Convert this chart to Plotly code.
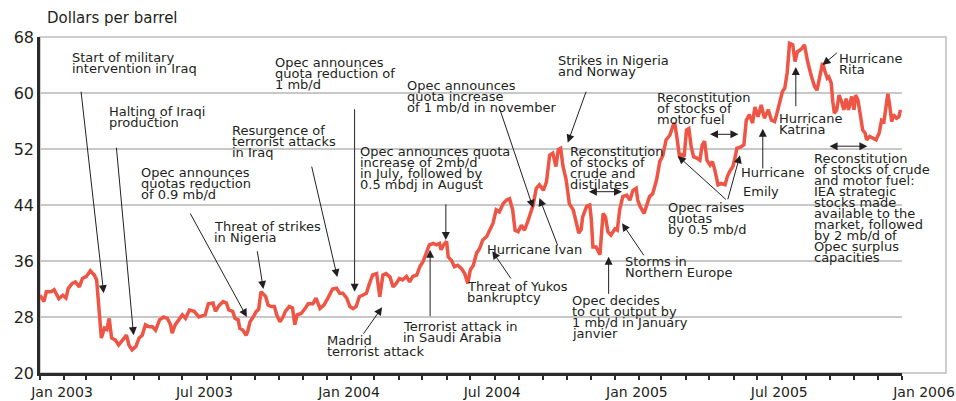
import plotly.graph_objects as go

# Brent price, dollars per barrel
dates = [
    "2003-01-01", "2003-01-06", "2003-01-09", "2003-01-15", "2003-01-19", "2003-01-25", "2003-01-30",
    "2003-02-03", "2003-02-06", "2003-02-11", "2003-02-15", "2003-02-20", "2003-02-24", "2003-03-01",
    "2003-03-06", "2003-03-11", "2003-03-14", "2003-03-17", "2003-03-20", "2003-03-24", "2003-03-27",
    "2003-03-30", "2003-04-02", "2003-04-07", "2003-04-11", "2003-04-16", "2003-04-21", "2003-04-24",
    "2003-04-28", "2003-05-03", "2003-05-07", "2003-05-11", "2003-05-15", "2003-05-20", "2003-05-24",
    "2003-05-28", "2003-06-02", "2003-06-07", "2003-06-12", "2003-06-16", "2003-06-18", "2003-06-22",
    "2003-06-27", "2003-07-01", "2003-07-05", "2003-07-10", "2003-07-16", "2003-07-22", "2003-07-30",
    "2003-08-03", "2003-08-09", "2003-08-12", "2003-08-17", "2003-08-22", "2003-08-26", "2003-08-29",
    "2003-09-03", "2003-09-06", "2003-09-10", "2003-09-12", "2003-09-16", "2003-09-20", "2003-09-22",
    "2003-09-25", "2003-09-29", "2003-10-03", "2003-10-06", "2003-10-09", "2003-10-11", "2003-10-15",
    "2003-10-18", "2003-10-22", "2003-10-26", "2003-10-29", "2003-11-02", "2003-11-06", "2003-11-09",
    "2003-11-14", "2003-11-18", "2003-11-21", "2003-11-24", "2003-11-29", "2003-12-04", "2003-12-08",
    "2003-12-14", "2003-12-18", "2003-12-23", "2003-12-28", "2004-01-02", "2004-01-08", "2004-01-13",
    "2004-01-17", "2004-01-21", "2004-01-26", "2004-01-30", "2004-02-03", "2004-02-07", "2004-02-11",
    "2004-02-15", "2004-02-20", "2004-02-24", "2004-02-28", "2004-03-04", "2004-03-08", "2004-03-12",
    "2004-03-16", "2004-03-21", "2004-03-25", "2004-03-29", "2004-04-02", "2004-04-06", "2004-04-11",
    "2004-04-15", "2004-04-19", "2004-04-24", "2004-04-28", "2004-05-02", "2004-05-06", "2004-05-10",
    "2004-05-15", "2004-05-19", "2004-05-23", "2004-05-25", "2004-05-28", "2004-06-01", "2004-06-03",
    "2004-06-07", "2004-06-11", "2004-06-15", "2004-06-20", "2004-06-24", "2004-06-28", "2004-07-01",
    "2004-07-05", "2004-07-09", "2004-07-13", "2004-07-17", "2004-07-22", "2004-07-26", "2004-07-30",
    "2004-08-03", "2004-08-07", "2004-08-12", "2004-08-16", "2004-08-20", "2004-08-24", "2004-08-27",
    "2004-08-31", "2004-09-04", "2004-09-08", "2004-09-12", "2004-09-15", "2004-09-19", "2004-09-23",
    "2004-09-27", "2004-10-02", "2004-10-06", "2004-10-10", "2004-10-14", "2004-10-18", "2004-10-21",
    "2004-10-24", "2004-10-27", "2004-10-31", "2004-11-04", "2004-11-09", "2004-11-13", "2004-11-16",
    "2004-11-19", "2004-11-21", "2004-11-26", "2004-11-30", "2004-12-02", "2004-12-04", "2004-12-08",
    "2004-12-13", "2004-12-15", "2004-12-17", "2004-12-20", "2004-12-23", "2004-12-27", "2005-01-01",
    "2005-01-04", "2005-01-07", "2005-01-11", "2005-01-16", "2005-01-20", "2005-01-24", "2005-01-28",
    "2005-01-30", "2005-02-02", "2005-02-07", "2005-02-10", "2005-02-14", "2005-02-18", "2005-02-23",
    "2005-02-27", "2005-03-03", "2005-03-07", "2005-03-12", "2005-03-16", "2005-03-18", "2005-03-21",
    "2005-03-24", "2005-03-27", "2005-03-30", "2005-04-02", "2005-04-05", "2005-04-08", "2005-04-11",
    "2005-04-15", "2005-04-19", "2005-04-22", "2005-04-25", "2005-04-28", "2005-05-02", "2005-05-05",
    "2005-05-08", "2005-05-12", "2005-05-16", "2005-05-21", "2005-05-24", "2005-05-27", "2005-05-31",
    "2005-06-03", "2005-06-05", "2005-06-10", "2005-06-14", "2005-06-17", "2005-06-21", "2005-06-25",
    "2005-06-28", "2005-07-02", "2005-07-06", "2005-07-10", "2005-07-15", "2005-07-19", "2005-07-23",
    "2005-07-26", "2005-07-30", "2005-08-02", "2005-08-05", "2005-08-08", "2005-08-11", "2005-08-15",
    "2005-08-18", "2005-08-21", "2005-08-24", "2005-08-27", "2005-08-30", "2005-09-03", "2005-09-08",
    "2005-09-12", "2005-09-15", "2005-09-18", "2005-09-22", "2005-09-25", "2005-09-28", "2005-09-30",
    "2005-10-03", "2005-10-05", "2005-10-07", "2005-10-10", "2005-10-13", "2005-10-16", "2005-10-19",
    "2005-10-22", "2005-10-25", "2005-10-29", "2005-11-01", "2005-11-03", "2005-11-06", "2005-11-09",
    "2005-11-12", "2005-11-15", "2005-11-17", "2005-11-21", "2005-11-25", "2005-11-29", "2005-12-03",
    "2005-12-06", "2005-12-09", "2005-12-11", "2005-12-14", "2005-12-16", "2005-12-19", "2005-12-21",
    "2005-12-25", "2005-12-28", "2005-12-30",
]
prices = [
    31.1, 30.2, 31.6, 31.6, 31.9, 30.6, 31.1,
    30.7, 32.1, 32.8, 33.0, 32.3, 33.5, 33.8,
    34.6, 34.0, 33.3, 29.0, 25.0, 26.4, 26.2,
    27.8, 25.0, 24.7, 24.0, 24.7, 25.4, 24.0,
    23.3, 23.8, 25.0, 25.4, 26.9, 26.6, 26.6,
    26.1, 27.6, 28.0, 27.8, 26.9, 25.7, 26.9,
    27.6, 28.3, 27.8, 29.0, 28.8, 28.0, 28.3,
    29.9, 30.0, 28.8, 29.7, 30.2, 30.0, 29.0,
    28.8, 27.8, 27.6, 26.4, 26.1, 25.4, 25.9,
    27.3, 28.0, 28.8, 29.1, 31.6, 31.4, 30.9,
    29.7, 29.5, 29.5, 28.3, 27.3, 28.0, 28.8,
    29.5, 29.3, 26.9, 28.3, 28.5, 29.2, 29.9,
    29.9, 30.7, 29.2, 29.7, 30.7, 32.0, 32.1,
    31.4, 31.4, 30.7, 29.5, 29.2, 29.5, 30.9,
    31.1, 31.4, 32.8, 34.0, 34.2, 30.9, 34.0,
    34.2, 33.7, 32.3, 32.8, 33.5, 33.3, 33.8,
    33.0, 33.8, 34.0, 35.2, 35.9, 37.1, 38.3,
    38.5, 38.3, 38.5, 37.6, 38.3, 38.8, 36.6,
    36.1, 35.2, 35.4, 34.9, 34.2, 32.8, 34.7,
    35.4, 37.1, 37.8, 39.0, 39.5, 40.4, 41.4,
    43.3, 43.0, 44.2, 44.7, 44.9, 43.3, 40.4,
    40.2, 41.1, 40.4, 41.6, 42.8, 44.0, 46.4,
    46.9, 46.1, 47.3, 51.1, 51.4, 49.5, 51.9,
    52.1, 49.5, 47.6, 44.2, 43.3, 41.4, 40.0,
    40.5, 42.3, 43.8, 44.0, 41.9, 38.0, 38.0,
    36.9, 40.0, 42.8, 42.3, 40.2, 39.7, 40.6,
    40.4, 43.3, 45.2, 45.4, 44.7, 46.1, 46.4,
    44.7, 43.8, 42.8, 43.8, 45.2, 45.6, 47.6,
    50.2, 51.1, 53.3, 54.0, 55.4, 55.7, 53.5,
    51.0, 51.2, 50.9, 54.7, 54.9, 52.3, 50.9,
    50.7, 50.4, 52.6, 53.1, 50.4, 49.7, 50.2,
    49.0, 46.9, 47.1, 46.9, 48.1, 48.8, 49.5,
    50.9, 52.1, 52.3, 52.6, 56.1, 56.9, 55.7,
    58.0, 56.6, 58.3, 56.4, 57.6, 56.1, 55.9,
    57.1, 58.8, 60.2, 60.7, 62.9, 67.1, 66.9,
    64.5, 65.9, 66.1, 66.4, 66.9, 64.5, 62.3,
    60.9, 60.4, 62.3, 64.3, 63.1, 62.1, 62.3,
    61.4, 58.8, 57.1, 57.6, 59.7, 58.8, 57.6,
    59.2, 57.6, 59.5, 57.6, 59.7, 59.0, 56.9,
    54.7, 54.3, 53.3, 53.8, 53.6, 53.3, 54.3,
    56.1, 55.9, 57.8, 59.9, 58.5, 55.9, 56.9,
    56.4, 56.6, 57.6,
]

y_ticks = [20, 28, 36, 44, 52, 60, 68]

# text blocks: anchor (left, first line), lines
labels = [
    ("2003-02-10", 65.1, ["Start of military", "intervention in Iraq"]),
    ("2003-03-29", 57.3, ["Halting of Iraqi", "production"]),
    ("2003-05-08", 48.6, ["Opec announces", "quotas reduction", "of 0.9 mb/d"]),
    ("2003-08-09", 41.0, ["Threat of strikes", "in Nigeria"]),
    ("2003-09-01", 54.7, ["Resurgence of", "terrorist attacks", "in Iraq"]),
    ("2003-10-26", 64.4, ["Opec announces", "quota reduction of", "1 mb/d"]),
    ("2004-02-11", 51.6, ["Opec announces quota", "increase of 2mb/d",
                          "in July, followed by", "0.5 mbdj in August"]),
    ("2004-04-10", 61.1, ["Opec announces", "quota increase", "of 1 mb/d in november"]),
    ("2004-10-19", 64.7, ["Strikes in Nigeria", "and Norway"]),
    ("2004-11-03", 51.6, ["Reconstitution", "of stocks of", "crude and", "distilates"]),
    ("2004-07-21", 37.7, ["Hurricane Ivan"]),
    ("2004-06-26", 32.4, ["Threat of Yukos", "bankruptcy"]),
    ("2004-04-05", 26.6, ["Terrorist attack in", "in Saudi Arabia"]),
    ("2003-12-31", 24.7, ["Madrid", "terrorist attack"]),
    ("2004-11-06", 30.4, ["Opec decides", "to cut output by", "1 mb/d in January", "janvier"]),
    ("2005-01-13", 35.9, ["Storms in", "Northern Europe"]),
    ("2005-03-08", 43.6, ["Opec raises", "quotas", "by 0.5 mb/d"]),
    ("2005-02-22", 59.4, ["Reconstitution", "of stocks of", "motor fuel"]),
    ("2005-06-09", 48.6, ["Hurricane"]),
    ("2005-06-12", 46.0, ["Emily"]),
    ("2005-07-27", 56.4, ["Hurricane", "Katrina"]),
    ("2005-10-12", 64.9, ["Hurricane", "Rita"]),
    ("2005-09-10", 50.7, ["Reconstitution", "of stocks of crude", "and motor fuel:",
                          "IEA strategic", "stocks made", "available to the",
                          "market, followed", "by 2 mb/d of", "Opec surplus", "capacities"]),
]

# arrows: tail -> head
arrows = [
    ("2003-02-22", 60.4, "2003-03-23", 31.4),
    ("2003-04-08", 52.4, "2003-04-30", 25.4),
    ("2003-07-10", 43.0, "2003-09-21", 28.0),
    ("2003-10-04", 37.6, "2003-10-12", 32.0),
    ("2003-12-12", 49.7, "2004-01-14", 33.7),
    ("2004-02-05", 57.9, "2004-02-05", 31.6),
    ("2004-05-31", 44.3, "2004-05-31", 39.0),
    ("2004-08-07", 57.9, "2004-09-19", 43.6),
    ("2004-11-26", 60.4, "2004-11-02", 52.9),
    ("2004-10-21", 38.0, "2004-09-27", 45.0),
    ("2004-08-23", 33.3, "2004-07-29", 37.4),
    ("2004-05-11", 27.9, "2004-05-11", 37.6),
    ("2004-02-15", 25.4, "2004-03-11", 29.4),
    ("2004-12-24", 31.1, "2004-12-24", 36.6),
    ("2005-02-08", 36.6, "2005-01-10", 41.4),
    ("2005-05-24", 44.6, "2005-03-22", 51.0),
    ("2005-05-24", 44.6, "2005-06-09", 51.1),
    ("2005-07-08", 49.0, "2005-07-08", 54.9),
    ("2005-08-19", 57.9, "2005-08-19", 63.7),
    ("2005-10-12", 65.9, "2005-09-22", 64.0),
]

# double-headed period markers: start, end, level
spans = [
    ("2004-11-27", "2005-01-10", 45.9),
    ("2005-04-30", "2005-06-07", 54.1),
    ("2005-09-29", "2005-11-18", 52.4),
]

INK = "#231f20"
FONT = "DejaVu Sans"
LINE_GAP = 11

fig = go.Figure()

fig.add_trace(
    go.Scatter(
        x=dates,
        y=prices,
        mode="lines",
        line={"color": "#ef5545", "width": 3.5},
        hoverinfo="skip",
        showlegend=False,
    )
)

annotations = []

# labels, one annotation per line so the line spacing stays tight
for x, y, lines in labels:
    for i, line in enumerate(lines):
        annotations.append(dict(
            x=x, y=y, xref="x", yref="y", text=line, showarrow=False,
            xanchor="left", yanchor="middle", yshift=-i * LINE_GAP,
            borderpad=0,
            font={"family": FONT, "size": 13, "color": INK},
        ))

for tx, ty, hx, hy in arrows:
    annotations.append(dict(
        x=hx, y=hy, ax=tx, ay=ty, xref="x", yref="y", axref="x", ayref="y",
        text="", showarrow=True, arrowhead=2, arrowsize=1.6, arrowwidth=1,
        arrowcolor=INK, standoff=0, startstandoff=0,
    ))

for x0, x1, y in spans:
    annotations.append(dict(
        x=x1, y=y, ax=x0, ay=y, xref="x", yref="y", axref="x", ayref="y",
        text="", showarrow=True, arrowhead=2, arrowsize=1.6, arrowwidth=1,
        arrowside="end+start", arrowcolor=INK, standoff=0, startstandoff=0,
    ))

# unit title
annotations.append(dict(
    x=0.006, y=1.057, xref="paper", yref="paper", text="Dollars per barrel",
    showarrow=False, xanchor="left", yanchor="middle",
    font={"family": FONT, "size": 15, "color": INK},
))

fig.update_layout(
    annotations=annotations,
    # light frame around the chart
    shapes=[dict(
        type="rect", xref="paper", yref="paper", x0=0, x1=1.051, y0=0, y1=1,
        line={"color": "#bdbdbd", "width": 1.5}, layer="below",
    )],
    plot_bgcolor="rgba(0,0,0,0)",
    paper_bgcolor="white",
    autosize=False,
    width=956,
    height=401,
    margin={"l": 40, "r": 54, "t": 37, "b": 28},
    showlegend=False,
)

fig.update_xaxes(
    type="date",
    range=["2003-01-01", "2006-01-01 00:00:01"],
    tick0="2003-01-01",
    dtick="M6",
    tickformat="%b %Y",
    ticks="outside",
    ticklen=4,
    tickwidth=2,
    tickcolor="#2b2b2b",
    ticklabelshift=22,
    ticklabelstandoff=0,
    minor={"dtick": "M1", "ticks": "outside", "ticklen": 4, "tickwidth": 2,
           "tickcolor": "#2b2b2b", "showgrid": False},
    showgrid=False,
    showline=True,
    linecolor="#2b2b2b",
    linewidth=2.5,
    zeroline=False,
    automargin=False,
    tickfont={"family": FONT, "size": 14, "color": INK},
)

fig.update_yaxes(
    range=[20, 68],
    tickvals=y_ticks,
    showgrid=True,
    gridcolor="#c8c8c8",
    gridwidth=1.5,
    showline=True,
    linecolor="#2b2b2b",
    linewidth=2.5,
    zeroline=False,
    automargin=False,
    ticks="",
    tickfont={"family": FONT, "size": 16, "color": INK},
)

# drop the default page margin so the chart sits at the window's corner
fig.write_html(
    "out.html",
    config={"displayModeBar": False},
    post_script="document.body.style.margin = '0';",
)
